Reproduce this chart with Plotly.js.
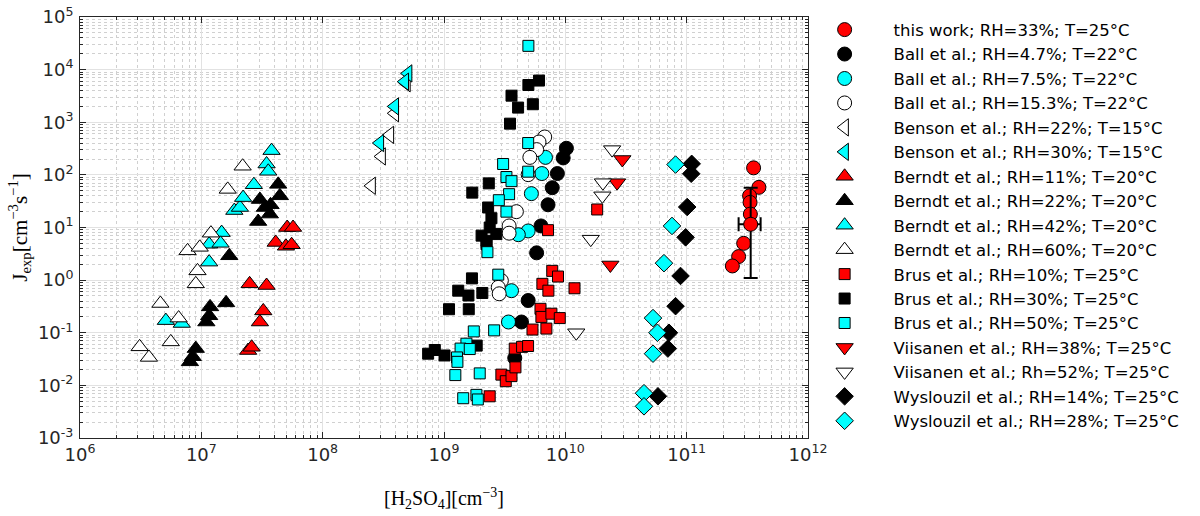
<!DOCTYPE html>
<html>
<head>
<meta charset="utf-8">
<script src="https://cdn.plot.ly/plotly-3.0.1.min.js"></script>
<style>
  body { margin: 0; background: #fff; }
  #myDiv { width: 1200px; height: 516px; }
</style>
</head>
<body>
<div id="myDiv"></div>
<script>
// this work (RH=33%, T=25 C)
let thisWorkX = [3.56e11, 3.94e11, 3.30e11, 3.33e11, 3.35e11, 2.95e11, 2.68e11, 2.38e11];
let thisWorkY = [136, 58, 40, 30, 18, 5.0, 2.8, 1.86];
// mean point with its uncertainty
let meanX = [3.37e11];
let meanY = [11.5];
let meanErrXPlus = [0.70e11];
let meanErrXMinus = [0.69e11];
let meanErrYPlus = [45.5];
let meanErrYMinus = [10.4];

let ball47X = [1.02e10, 9.6e9, 8.6e9, 7.8e9, 7.2e9, 6.3e9, 5.8e9, 4.94e9, 4.35e9, 3.83e9];
let ball47Y = [320, 210, 106, 57, 27, 10.7, 3.3, 0.41, 0.16, 0.033];

let ball75X = [6.86e9, 6.4e9, 5.25e9, 4.94e9, 4.1e9, 3.6e9, 3.4e9];
let ball75Y = [215, 106, 44, 8.6, 7.3, 0.63, 0.16];

let ball153X = [6.76e9, 6.07e9, 5.8e9, 5.1e9, 4.94e9, 3.95e9, 3.44e9, 3.44e9, 2.97e9, 2.8e9, 2.85e9];
let ball153Y = [525, 421, 302, 215, 101, 20, 10.7, 7.8, 0.98, 0.73, 0.55];

let benson22X = [2.53e8, 3.06e8, 3.58e8, 3.93e8, 4.9e8];
let benson22Y = [62, 224, 575, 1480, 5500];

let benson30X = [5.06e8, 4.75e8, 3.93e8, 2.96e8];
let benson30Y = [8470, 5900, 2000, 403];

let berndt11X = [2.5e7, 3.45e7, 3.24e7, 3.04e7, 2.43e7, 2.6e7, 4.1e7, 5.1e7, 5.7e7, 4.98e7, 5.55e7];
let berndt11Y = [0.85, 0.79, 0.26, 0.16, 0.046, 0.053, 5.2, 10, 10, 4.4, 4.7];

let berndt22X = [8.05e6, 8.5e6, 9.0e6, 1.1e7, 1.16e7, 1.18e7, 1.6e7, 1.7e7, 2.94e7, 3.04e7, 3.34e7, 3.67e7, 3.72e7, 4.44e7, 4.3e7];
let berndt22Y = [0.028, 0.035, 0.05, 0.16, 0.21, 0.31, 0.37, 2.9, 13, 34, 24, 18, 27, 40, 66];

let berndt42X = [5.1e6, 6.9e6, 1.16e7, 1.16e7, 1.47e7, 1.44e7, 1.87e7, 2.08e7, 2.21e7, 2.71e7, 3.45e7, 3.56e7, 3.79e7];
let berndt42Y = [0.17, 0.15, 2.2, 4.8, 8.0, 5.0, 21, 24, 37, 65, 161, 117, 289];

let berndt60X = [3.1e6, 3.7e6, 4.6e6, 5.6e6, 6.5e6, 7.7e6, 9.7e6, 9.3e6, 9.0e6, 1.2e7, 1.65e7, 2.19e7];
let berndt60Y = [0.054, 0.034, 0.36, 0.067, 0.19, 3.6, 4.2, 1.5, 0.85, 7.8, 53, 146];

let brus10X = [2.38e9, 2.97e9, 3.23e9, 3.6e9, 3.88e9, 3.83e9, 4.4e9, 4.93e9, 5.36e9, 6.98e9, 6.24e9, 6.35e9, 7.68e9, 9.0e9, 6.47e9, 7.25e9, 7.8e9, 8.7e9, 1.19e10, 7.2e9, 1.83e10];
let brus10Y = [0.0062, 0.016, 0.012, 0.015, 0.022, 0.05, 0.054, 0.056, 0.115, 0.12, 0.285, 0.2, 0.23, 0.19, 0.85, 0.63, 1.5, 1.17, 0.7, 8.9, 22];

let brus30X = [6.07e9, 4.96e9, 3.6e9, 4.08e9, 5.4e9, 3.5e9, 2.34e9, 1.71e9, 2.31e9, 2.46e9, 2.38e9, 2.04e9, 2.24e9, 2.7e9, 2.24e9, 1.7e9, 1.31e9, 1.59e9, 2.07e9, 1.1e9, 1.6e9, 1.86e9, 7.4e8, 8.4e8, 1.01e9];
let brus30Y = [6200, 5100, 3200, 1900, 2200, 940, 69, 46, 24, 15, 10, 7, 5.6, 7.5, 4.8, 1.08, 0.63, 0.51, 0.57, 0.28, 0.28, 0.057, 0.040, 0.047, 0.037];

let brus50X = [4.96e9, 4.94e9, 3.07e9, 3.27e9, 3.6e9, 3.44e9, 2.83e9, 3.27e9, 4.94e9, 2.28e9, 2.8e9, 1.76e9, 2.59e9, 1.53e9, 1.37e9, 1.63e9, 1.28e9, 1.29e9, 1.24e9, 1.97e9, 1.44e9, 1.85e9, 1.9e9];
let brus50Y = [28300, 403, 161, 91, 76, 43, 33, 20, 115, 3.4, 1.27, 0.106, 0.111, 0.062, 0.05, 0.049, 0.034, 0.028, 0.0157, 0.0169, 0.0057, 0.0066, 0.0054];

let viis38X = [2.95e10, 2.67e10, 2.35e10];
let viis38Y = [196, 71, 1.94];

let viis52X = [2.43e10, 2.04e10, 2.02e10, 1.62e10, 1.23e10];
let viis52Y = [302, 71, 40, 6.0, 0.10];

let wys14X = [1.1e11, 1.09e11, 1.01e11, 9.8e10, 8.9e10, 8.1e10, 7.15e10, 7.0e10, 5.8e10];
let wys14Y = [162, 105, 24.5, 6.5, 1.2, 0.32, 0.10, 0.05, 0.0062];

let wys28X = [8.1e10, 7.57e10, 6.5e10, 5.28e10, 5.74e10, 5.28e10, 4.45e10, 4.45e10];
let wys28Y = [157, 10.7, 2.1, 0.19, 0.10, 0.040, 0.0071, 0.004];

let xTickVals = [1e6, 1e7, 1e8, 1e9, 1e10, 1e11, 1e12];
let xTickText = ['10<sup>6</sup>', '10<sup>7</sup>', '10<sup>8</sup>', '10<sup>9</sup>', '10<sup>10</sup>', '10<sup>11</sup>', '10<sup>12</sup>'];
let yTickVals = [1e-3, 1e-2, 1e-1, 1e0, 1e1, 1e2, 1e3, 1e4, 1e5];
let yTickText = ['10<sup>-3</sup>', '10<sup>-2</sup>', '10<sup>-1</sup>', '10<sup>0</sup>', '10<sup>1</sup>', '10<sup>2</sup>', '10<sup>3</sup>', '10<sup>4</sup>', '10<sup>5</sup>'];

// minor ticks 2..9 in every decade
function minorVals(lo, hi) {
  let out = [];
  for (let p = lo; p < hi; p++) {
    for (let m = 2; m <= 9; m++) out.push(m * Math.pow(10, p));
  }
  return out;
}

const RED = '#ff0000', CYAN = '#00ffff', BLACK = '#000000', WHITE = '#ffffff';

function series(name, x, y, symbol, color, size) {
  return {
    x: x, y: y, name: name, type: 'scatter', mode: 'markers',
    marker: {symbol: symbol, color: color, size: size, line: {color: '#000', width: 1}}
  };
}

let data = [
  series('this work; RH=33%; T=25°C', thisWorkX, thisWorkY, 'circle', RED, 14),
  series('Ball et al.; RH=4.7%; T=22°C', ball47X, ball47Y, 'circle', BLACK, 14),
  series('Ball et al.; RH=7.5%; T=22°C', ball75X, ball75Y, 'circle', CYAN, 14),
  series('Ball et al.; RH=15.3%; T=22°C', ball153X, ball153Y, 'circle', WHITE, 14),
  series('Benson et al.; RH=22%; T=15°C', benson22X, benson22Y, 'triangle-left', WHITE, 15),
  series('Benson et al.; RH=30%; T=15°C', benson30X, benson30Y, 'triangle-left', CYAN, 15),
  series('Berndt et al.; RH=11%; T=20°C', berndt11X, berndt11Y, 'triangle-up', RED, 15),
  series('Berndt et al.; RH=22%; T=20°C', berndt22X, berndt22Y, 'triangle-up', BLACK, 15),
  series('Berndt et al.; RH=42%; T=20°C', berndt42X, berndt42Y, 'triangle-up', CYAN, 15),
  series('Berndt et al.; RH=60%; T=20°C', berndt60X, berndt60Y, 'triangle-up', WHITE, 15),
  series('Brus et al.; RH=10%; T=25°C', brus10X, brus10Y, 'square', RED, 11),
  series('Brus et al.; RH=30%; T=25°C', brus30X, brus30Y, 'square', BLACK, 11),
  series('Brus et al.; RH=50%; T=25°C', brus50X, brus50Y, 'square', CYAN, 11),
  series('Viisanen et al.; RH=38%; T=25°C', viis38X, viis38Y, 'triangle-down', RED, 15),
  series('Viisanen et al.; Rh=52%; T=25°C', viis52X, viis52Y, 'triangle-down', WHITE, 15),
  series('Wyslouzil et al.; RH=14%; T=25°C', wys14X, wys14Y, 'diamond', BLACK, 13.5),
  series('Wyslouzil et al.; RH=28%; T=25°C', wys28X, wys28Y, 'diamond', CYAN, 13.5)
];

let mean = series('mean', meanX, meanY, 'circle', RED, 14);
mean.showlegend = false;
mean.error_y = {type: 'data', symmetric: false, array: meanErrYPlus, arrayminus: meanErrYMinus, color: '#000', thickness: 2, width: 7};
mean.error_x = {type: 'data', symmetric: false, array: meanErrXPlus, arrayminus: meanErrXMinus, color: '#000', thickness: 2, width: 7};
data.push(mean);

let axisCommon = {
  type: 'log',
  tickmode: 'array',
  ticks: 'inside', ticklen: 6, tickwidth: 1, tickcolor: '#262626',
  showline: true, linecolor: '#262626', linewidth: 1, mirror: 'ticks',
  showgrid: true, gridcolor: '#e2e2e2', gridwidth: 1,
  zeroline: false,
  tickfont: {family: 'DejaVu Sans', size: 18, color: '#262626'}
};

let layout = {
  width: 1200, height: 516,
  margin: {l: 80, r: 392, t: 15, b: 78},
  paper_bgcolor: '#fff', plot_bgcolor: '#fff',
  showlegend: true,
  xaxis: Object.assign({}, axisCommon, {
    range: [6, 12],
    tickvals: xTickVals, ticktext: xTickText,
    minor: {tickmode: 'array', tickvals: minorVals(6, 12), ticks: 'inside', ticklen: 3, tickcolor: '#262626',
            showgrid: true, gridcolor: '#d0d0d0', griddash: 'dot', gridwidth: 1},
    title: {text: '[H<sub>2</sub>SO<sub>4</sub>][cm<sup>−3</sup>]', font: {family: 'Liberation Serif', size: 20, color: '#000'}, standoff: 27}
  }),
  yaxis: Object.assign({}, axisCommon, {
    range: [-3, 5],
    tickvals: yTickVals, ticktext: yTickText,
    ticklabelstandoff: 2,
    minor: {tickmode: 'array', tickvals: minorVals(-3, 5), ticks: 'inside', ticklen: 3, tickcolor: '#262626',
            showgrid: true, gridcolor: '#d0d0d0', griddash: 'dot', gridwidth: 1},
    title: {text: 'J<sub>exp</sub>[cm<sup>−3</sup>s<sup>−1</sup>]', font: {family: 'Liberation Serif', size: 21, color: '#000'}, standoff: 4}
  }),
  legend: {
    x: 0.983, xanchor: 'left', y: 1.011, yanchor: 'top',
    maxheight: 1,
    font: {family: 'DejaVu Sans', size: 16.5, color: '#000'},
    itemwidth: 88, bgcolor: 'rgba(0,0,0,0)', borderwidth: 0
  }
};

Plotly.newPlot('myDiv', data, layout, {displayModeBar: false, staticPlot: true});
</script>
</body>
</html>
